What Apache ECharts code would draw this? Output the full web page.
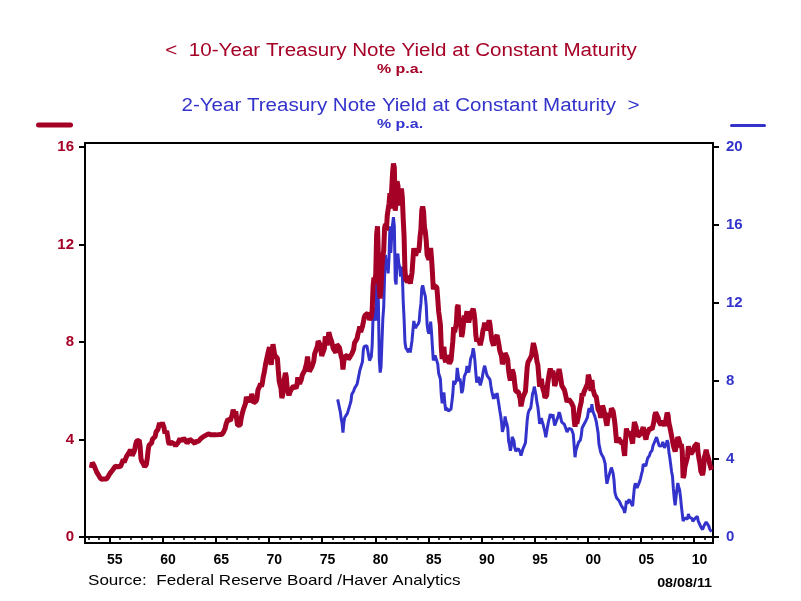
<!DOCTYPE html>
<html>
<head>
<meta charset="utf-8">
<script src="https://cdn.jsdelivr.net/npm/echarts@6/dist/echarts.min.js"></script>
<style>
html,body{margin:0;padding:0;background:#fff;}
#chart{width:801px;height:601px;}
</style>
</head>
<body>
<div id="chart"></div>
<script>
// ---- DATA (monthly, % p.a.) ----
var tenYearStart = [1953, 4];
var tenYearYield = [
2.83,3.05,3.11,2.93,2.95,2.87,2.66,2.68,2.59,
2.48,2.47,2.37,2.29,2.37,2.38,2.30,2.36,2.38,2.43,2.48,2.51,
2.61,2.65,2.68,2.75,2.76,2.78,2.90,2.97,2.97,2.88,2.89,2.96,
2.90,2.84,2.96,3.18,3.07,3.00,3.11,3.33,3.38,3.34,3.49,3.59,
3.46,3.34,3.41,3.48,3.60,3.80,3.93,3.93,3.92,3.97,3.72,3.21,
3.09,3.05,2.98,2.88,2.92,2.97,3.20,3.54,3.76,3.80,3.74,3.86,
4.02,3.96,3.99,4.12,4.31,4.34,4.40,4.43,4.68,4.53,4.53,4.69,
4.72,4.49,4.25,4.28,4.35,4.15,3.90,3.80,3.80,3.89,3.93,3.84,
3.84,3.78,3.74,3.78,3.71,3.88,3.92,4.04,3.98,3.92,3.94,4.06,
4.08,4.04,3.93,3.84,3.87,3.91,4.01,3.98,3.98,3.93,3.92,3.86,
3.83,3.92,3.93,3.97,3.93,3.99,4.02,4.00,4.08,4.11,4.12,4.13,
4.17,4.15,4.22,4.23,4.20,4.17,4.19,4.19,4.20,4.19,4.15,4.18,
4.19,4.21,4.21,4.20,4.21,4.21,4.20,4.25,4.29,4.35,4.45,4.62,
4.61,4.83,4.87,4.75,4.78,4.81,5.02,5.22,5.18,5.01,5.16,4.84,
4.58,4.63,4.54,4.59,4.85,5.02,5.16,5.28,5.30,5.48,5.75,5.70,
5.53,5.56,5.74,5.64,5.87,5.72,5.50,5.42,5.46,5.58,5.70,6.03,
6.04,6.19,6.30,6.17,6.32,6.57,6.72,6.69,7.16,7.10,7.14,7.65,
7.79,7.24,7.07,7.39,7.91,7.84,7.46,7.53,7.39,7.33,6.84,6.39,
6.24,6.11,5.70,5.83,6.39,6.52,6.73,6.58,6.14,5.93,5.81,5.93,
5.95,6.08,6.07,6.19,6.13,6.11,6.11,6.21,6.55,6.48,6.28,6.36,
6.46,6.64,6.71,6.67,6.85,6.90,7.13,7.40,7.09,6.79,6.73,6.74,
6.99,6.96,7.21,7.51,7.58,7.54,7.81,8.04,8.04,7.90,7.68,7.43,
7.50,7.39,7.73,8.23,8.06,7.86,8.06,8.40,8.43,8.14,8.05,8.00,
7.74,7.79,7.73,7.56,7.90,7.86,7.83,7.77,7.59,7.41,7.29,6.87,
7.21,7.39,7.46,7.37,7.46,7.28,7.33,7.40,7.34,7.52,7.58,7.69,
7.96,8.03,8.04,8.15,8.35,8.46,8.64,8.41,8.42,8.64,8.81,9.01,
9.10,9.10,9.12,9.18,9.25,8.91,8.95,9.03,9.33,10.30,10.65,10.39,
10.80,12.41,12.75,11.47,10.18,9.78,10.25,11.10,11.51,11.75,12.68,12.84,
12.57,13.19,13.12,13.68,14.10,13.47,14.28,14.94,15.32,15.15,13.39,13.72,
14.59,14.43,13.86,13.87,13.62,14.30,13.95,13.06,12.34,10.91,10.55,10.54,
10.46,10.72,10.51,10.40,10.38,10.85,11.38,11.85,11.65,11.54,11.69,11.83,
11.67,11.84,12.32,12.63,13.41,13.56,13.36,12.72,12.52,12.16,11.57,11.50,
11.38,11.51,11.86,11.43,10.85,10.16,10.31,10.33,10.37,10.24,9.78,9.26,
9.19,8.70,7.78,7.30,7.71,7.80,7.30,7.17,7.45,7.43,7.25,7.11,
7.08,7.25,7.25,8.02,8.61,8.40,8.45,8.76,9.42,9.52,8.86,8.99,
8.67,8.21,8.37,8.72,9.09,8.92,9.06,9.26,8.98,8.80,8.96,9.11,
9.09,9.17,9.36,9.18,8.86,8.28,8.02,8.11,8.19,8.01,7.87,7.84,
8.21,8.47,8.59,8.79,8.76,8.48,8.47,8.75,8.89,8.72,8.39,8.08,
8.09,7.85,8.11,8.04,8.07,8.28,8.27,7.90,7.65,7.53,7.42,7.09,
7.03,7.34,7.54,7.48,7.39,7.26,6.84,6.59,6.42,6.59,6.87,6.77,
6.60,6.26,5.98,5.97,6.04,5.96,5.81,5.68,5.36,5.33,5.72,5.77,
5.75,5.97,6.48,6.97,7.18,7.10,7.30,7.24,7.46,7.74,7.96,7.81,
7.78,7.47,7.20,7.06,6.63,6.17,6.28,6.49,6.20,6.04,5.93,5.71,
5.65,5.81,6.27,6.51,6.74,6.91,6.87,6.64,6.83,6.53,6.20,6.30,
6.58,6.42,6.69,6.89,6.71,6.49,6.22,6.30,6.21,6.03,5.88,5.81,
5.54,5.57,5.65,5.64,5.65,5.50,5.46,5.34,4.81,4.53,4.83,4.65,
4.72,5.00,5.23,5.18,5.54,5.90,5.79,5.94,5.92,6.11,6.03,6.28,
6.66,6.52,6.26,5.99,6.44,6.10,6.05,5.83,5.80,5.74,5.72,5.24,
5.16,5.10,4.89,5.14,5.39,5.28,5.24,4.97,4.73,4.57,4.65,5.09,
5.04,4.91,5.28,5.21,5.16,4.93,4.65,4.26,3.87,3.94,4.05,4.03,
4.05,3.90,3.81,3.96,3.57,3.33,3.98,4.45,4.27,4.29,4.30,4.27,
4.15,4.08,3.83,4.35,4.72,4.73,4.50,4.28,4.13,4.10,4.19,4.23,
4.22,4.17,4.50,4.34,4.14,4.00,4.18,4.26,4.20,4.46,4.54,4.47,
4.42,4.57,4.72,4.99,5.11,5.11,5.09,4.88,4.72,4.73,4.60,4.56,
4.76,4.72,4.56,4.69,4.75,5.10,5.00,4.67,4.52,4.53,4.15,4.10,
3.74,3.74,3.51,3.68,3.88,4.10,4.01,3.89,3.69,3.81,3.53,2.42,
2.52,2.87,2.82,2.93,3.29,3.72,3.56,3.59,3.40,3.39,3.40,3.59,
3.73,3.69,3.73,3.85,3.42,3.20,3.01,2.70,2.65,2.54,2.76,3.29,
3.39,3.58,3.41,3.46,3.17,3.00,3.00,2.75
];
var twoYearStart = [1976, 6];
var twoYearYield = [
7.06,6.85,6.63,6.42,6.07,5.84,5.35,
5.87,6.13,6.20,6.08,6.34,6.26,6.40,6.80,6.96,7.32,7.34,7.48,
7.61,7.67,7.70,7.85,8.07,8.30,8.54,8.45,8.47,8.99,9.60,9.77,
9.84,9.78,9.81,9.90,9.85,9.05,9.00,9.25,9.85,11.35,11.77,11.23,
11.11,12.90,13.80,11.99,9.09,8.43,8.73,9.99,11.17,11.81,13.40,14.47,
13.93,14.26,13.52,14.33,15.93,14.57,15.45,16.03,16.40,15.93,13.17,12.95,
14.31,14.53,14.03,13.85,13.35,13.86,13.56,12.11,11.19,9.99,9.69,9.78,
9.63,9.48,9.67,9.46,9.51,10.09,10.61,11.08,10.86,10.71,10.82,10.91,
10.93,11.05,11.59,11.98,12.75,12.90,12.85,12.50,12.34,11.85,10.90,10.56,
10.43,10.55,11.05,10.49,9.75,9.05,9.18,9.31,9.37,9.25,8.88,8.40,
8.41,8.10,7.30,6.86,7.27,7.41,6.86,6.49,6.62,6.56,6.46,6.43,
6.41,6.56,6.58,7.32,8.02,7.82,7.74,8.03,8.67,8.75,7.99,8.13,
7.87,7.38,7.50,7.83,8.24,8.22,8.44,8.77,8.57,8.43,8.72,9.11,
9.20,9.37,9.68,9.45,9.02,8.41,7.92,8.11,8.22,7.99,7.77,7.72,
8.12,8.39,8.63,8.78,8.69,8.40,8.26,8.22,8.27,8.07,7.74,7.47,
7.38,7.08,7.35,7.23,7.12,7.39,7.38,6.80,6.50,6.23,5.90,5.39,
5.40,5.72,6.18,5.93,5.81,5.60,4.91,4.72,4.42,4.64,5.14,5.21,
4.93,4.58,4.40,4.30,4.40,4.53,4.43,4.36,4.17,4.18,4.50,4.54,
4.48,4.83,5.40,5.99,6.34,6.48,6.58,6.62,6.95,7.34,7.46,7.71,
7.66,7.25,6.89,6.68,6.27,5.80,5.89,6.10,5.89,5.77,5.57,5.39,
5.11,5.04,5.66,5.91,6.10,6.30,6.37,6.13,6.30,5.97,5.72,5.84,
5.89,5.87,6.20,6.40,6.29,6.09,5.89,5.94,5.88,5.77,5.71,5.72,
5.38,5.43,5.57,5.57,5.55,5.52,5.46,5.27,4.67,4.09,4.45,4.49,
4.55,4.86,4.90,4.97,5.20,5.59,5.62,5.77,5.75,5.94,5.92,6.14,
6.44,6.61,6.53,6.40,6.81,6.48,6.34,6.23,6.08,5.91,5.88,5.35,
4.76,4.66,4.34,4.23,4.26,4.08,4.04,3.76,3.12,2.73,2.78,3.11,
3.03,3.02,3.56,3.42,3.26,2.91,2.29,2.13,2.00,1.91,1.92,1.84,
1.74,1.63,1.57,1.62,1.42,1.23,1.47,1.86,1.71,1.75,1.93,1.91,
1.76,1.74,1.58,2.07,2.53,2.76,2.64,2.51,2.53,2.58,2.85,3.01,
3.22,3.38,3.73,3.65,3.64,3.64,3.87,4.04,3.95,4.17,4.33,4.35,
4.45,4.68,4.77,4.90,4.97,5.12,5.04,4.82,4.67,4.69,4.58,4.68,
4.88,4.85,4.57,4.67,4.77,4.96,4.82,4.34,4.06,3.99,3.35,3.12,
2.48,1.97,1.62,2.05,2.45,2.77,2.57,2.42,2.08,1.61,1.21,0.82,
0.81,0.98,0.93,0.93,0.92,1.18,1.02,1.12,0.96,0.95,0.80,0.87,
0.93,0.86,0.96,1.06,0.83,0.72,0.62,0.52,0.47,0.38,0.45,0.62,
0.61,0.77,0.70,0.73,0.56,0.41,0.41,0.27
];
var leftTicks = [0, 4, 8, 12, 16];
var rightTicks = [0, 4, 8, 12, 16, 20];
var majorYears = [1955,1960,1965,1970,1975,1980,1985,1990,1995,2000,2005,2010];
var minorYears = [];
for (var y = 1953; y <= 2011; y++) minorYears.push(y);
var yearLabelPos = majorYears.map(function (y) { return y + 0.5; });

var title1 = '<  10-Year Treasury Note Yield at Constant Maturity';
var title2 = '2-Year Treasury Note Yield at Constant Maturity  >';
var unitText = '% p.a.';
var sourceText = 'Source:  Federal Reserve Board /Haver Analytics';
var dateText = '08/08/11';

var RED = '#A50026';
var BLUE = '#3333CC';

function toPairs(start, vals) {
  return vals.map(function (v, i) {
    return [start[0] + (start[1] - 1 + i + 0.5) / 12, v];
  });
}

var chart = echarts.init(document.getElementById('chart'), null, {renderer: 'canvas'});
var FONT = '"Liberation Sans", Arial, sans-serif';

var option = {
  animation: false,
  backgroundColor: '#fff',
  grid: {left: 85, right: 88, top: 143, bottom: 58, show: true, borderColor: '#000', borderWidth: 2, backgroundColor: 'transparent'},
  xAxis: [{
    type: 'value', min: 1952.69, max: 2011.77, position: 'bottom',
    axisLine: {show: true, lineStyle: {color: '#000', width: 2}},
    axisTick: {show: true, customValues: majorYears, length: 7, lineStyle: {color: '#000', width: 2}},
    axisLabel: {show: true, customValues: yearLabelPos, margin: 10, color: '#000', fontWeight: 'bold', fontSize: 14, fontFamily: FONT,
      formatter: function (v) { var n = Math.floor(v) % 100; return (n < 10 ? '0' : '') + n; }},
    splitLine: {show: false}
  }, {
    type: 'value', min: 1952.69, max: 2011.77, position: 'bottom',
    axisLine: {show: false},
    axisTick: {show: true, customValues: minorYears, length: 3, lineStyle: {color: '#000', width: 1.5}},
    axisLabel: {show: false},
    splitLine: {show: false}
  }],
  yAxis: [{
    type: 'value', position: 'left', min: -0.2462, max: 16.164,
    axisLine: {show: true, lineStyle: {color: '#000', width: 2}},
    axisTick: {show: true, customValues: leftTicks, length: 6, lineStyle: {color: '#000', width: 2}},
    axisLabel: {show: true, customValues: leftTicks, margin: 11, color: RED, fontWeight: 'bold', fontSize: 15, fontFamily: FONT},
    splitLine: {show: false}
  }, {
    type: 'value', position: 'right', min: -0.3077, max: 20.205,
    axisLine: {show: true, lineStyle: {color: '#000', width: 2}},
    axisTick: {show: true, customValues: rightTicks, length: 6, lineStyle: {color: '#000', width: 2}},
    axisLabel: {show: true, customValues: rightTicks, margin: 13, color: BLUE, fontWeight: 'bold', fontSize: 15, fontFamily: FONT},
    splitLine: {show: false}
  }],
  series: [{
    name: '2-Year', type: 'line', xAxisIndex: 0, yAxisIndex: 1, showSymbol: false, z: 2,
    data: toPairs(twoYearStart, twoYearYield),
    lineStyle: {color: BLUE, width: 3}
  }, {
    name: '10-Year', type: 'line', xAxisIndex: 0, yAxisIndex: 0, showSymbol: false, z: 3,
    data: toPairs(tenYearStart, tenYearYield),
    lineStyle: {color: RED, width: 5}
  }],
  graphic: [
    {type: 'text', x: 401, y: 51, scaleX: 1.145, style: {text: title1, fill: RED, font: '18px ' + FONT, textAlign: 'center', textVerticalAlign: 'middle'}},
    {type: 'text', x: 400, y: 70, scaleX: 1.33, style: {text: unitText, fill: RED, font: 'bold 12px ' + FONT, textAlign: 'center', textVerticalAlign: 'middle'}},
    {type: 'text', x: 410.5, y: 106, scaleX: 1.14, style: {text: title2, fill: BLUE, font: '18px ' + FONT, textAlign: 'center', textVerticalAlign: 'middle'}},
    {type: 'text', x: 400, y: 125, scaleX: 1.33, style: {text: unitText, fill: BLUE, font: 'bold 12px ' + FONT, textAlign: 'center', textVerticalAlign: 'middle'}},
    {type: 'rect', shape: {x: 36, y: 122.5, width: 37, height: 5, r: 2.5}, style: {fill: RED}},
    {type: 'rect', shape: {x: 730, y: 124, width: 36, height: 3, r: 1.5}, style: {fill: BLUE}},
    {type: 'text', x: 88, y: 581, scaleX: 1.137, style: {text: sourceText, fill: '#000', font: '15px ' + FONT, textAlign: 'left', textVerticalAlign: 'middle'}},
    {type: 'text', x: 712, y: 583, scaleX: 1.1, style: {text: dateText, fill: '#000', font: 'bold 13px ' + FONT, textAlign: 'right', textVerticalAlign: 'middle'}}
  ]
};
chart.setOption(option);
</script>
</body>
</html>
